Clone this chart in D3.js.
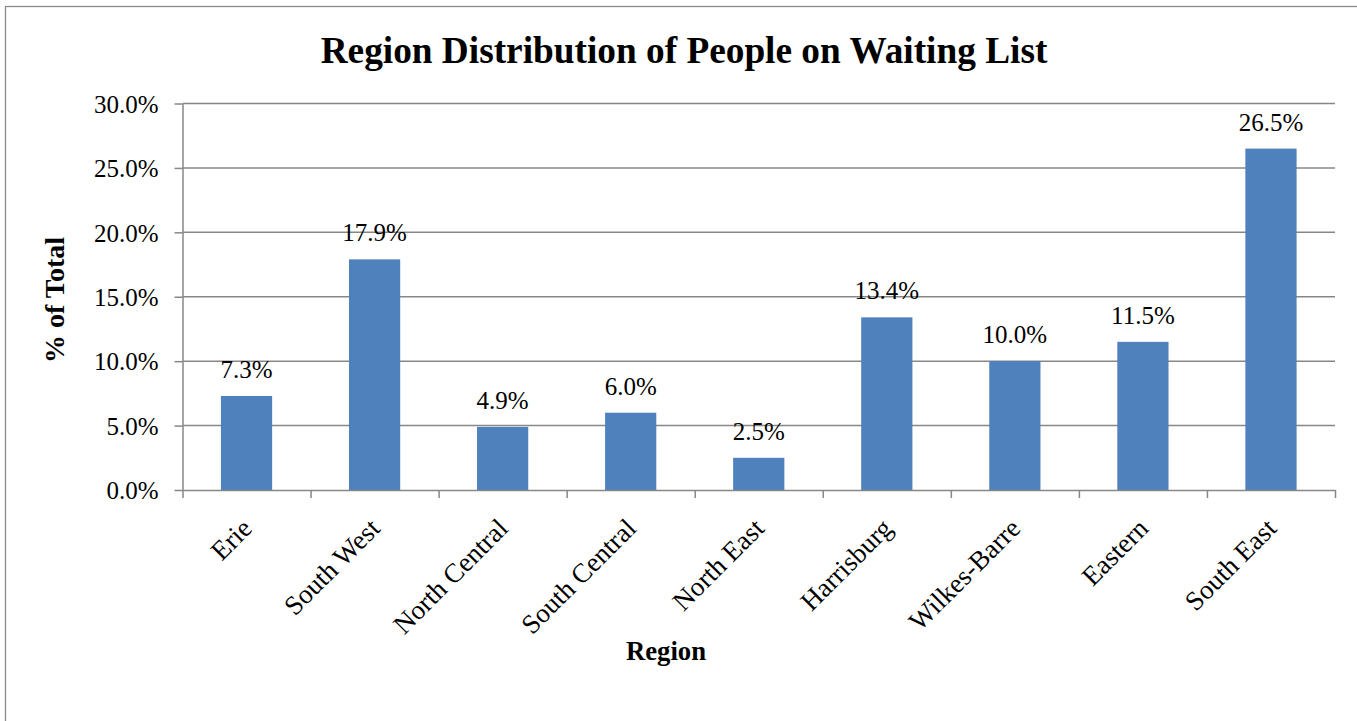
<!DOCTYPE html>
<html>
<head>
<meta charset="utf-8">
<script src="https://cdn.jsdelivr.net/npm/d3@7"></script>
<style>
  html, body { margin: 0; padding: 0; background: #fff; }
  svg { display: block; }
  text { font-family: "Liberation Serif", "Times New Roman", serif; fill: #000; }
</style>
</head>
<body>
<svg id="chart" width="1357" height="721"></svg>
<script>
const categories = ["Erie", "South West", "North Central", "South Central", "North East", "Harrisburg", "Wilkes-Barre", "Eastern", "South East"];
const values = [7.3, 17.9, 4.9, 6.0, 2.5, 13.4, 10.0, 11.5, 26.5];
const yTicks = [0, 5, 10, 15, 20, 25, 30];
const titleText = "Region Distribution of People on Waiting List";
const xTitle = "Region";
const yTitle = "% of Total";

(function () {
const svg = d3.select("#chart");
const FONT = "'Liberation Serif', 'Times New Roman', serif";
const pLeft = 182.5, pRight = 1335, pTop = 103.5, pBottom = 490;
const gray = "#878787";
const barColor = "#4F81BD";

// outer border
svg.append("rect").attr("x", 5.5).attr("y", 6.5).attr("width", 1400).attr("height", 800)
  .attr("fill", "#fff").attr("stroke", "#8a8a8a").attr("stroke-width", 1.3);

const x = d3.scaleBand().domain(categories).range([pLeft, pRight]).paddingInner(0.6).paddingOuter(0.3);
const xi = d3.scaleLinear().domain([0, categories.length]).range([pLeft, pRight]);
const y = d3.scaleLinear().domain([0, 30]).range([pBottom, pTop]);

// y axis with gridlines
const yAxis = d3.axisLeft(y).tickValues(yTicks).tickFormat(d => d.toFixed(1) + "%").tickSize(8).tickSizeOuter(0);
const gy = svg.append("g").attr("transform", `translate(${pLeft},0)`).call(yAxis);
gy.select(".domain").attr("stroke", gray).attr("stroke-width", 1.5);
gy.selectAll(".tick line").attr("stroke", gray).attr("stroke-width", 1.5);
gy.selectAll(".tick text").attr("x", -24).attr("dy", "0.35em")
  .style("font-size", "25px").style("font-family", FONT).attr("fill", "#000");

svg.append("g").selectAll("line").data(yTicks.filter(d => d > 0)).join("line")
  .attr("x1", pLeft).attr("x2", pRight).attr("y1", d => y(d)).attr("y2", d => y(d))
  .attr("stroke", gray).attr("stroke-width", 1.5);

// bars
svg.append("g").selectAll("rect").data(values).join("rect")
  .attr("x", (d, i) => x(categories[i]))
  .attr("width", x.bandwidth())
  .attr("y", d => y(d))
  .attr("height", d => y(0) - y(d))
  .attr("fill", barColor);

// x axis
const xAxis = d3.axisBottom(xi).tickValues(d3.range(categories.length + 1)).tickFormat("").tickSize(8).tickSizeOuter(0);
const gx = svg.append("g").attr("transform", `translate(0,${pBottom})`).call(xAxis);
gx.select(".domain").attr("stroke", gray).attr("stroke-width", 1.5);
gx.selectAll(".tick line").attr("stroke", gray).attr("stroke-width", 1.5);

// category labels
svg.append("g").selectAll("text").data(categories).join("text")
  .attr("transform", d => `translate(${x(d) + x.bandwidth() / 2 + 7},${pBottom + 40}) rotate(-45)`)
  .attr("text-anchor", "end")
  .style("font-family", FONT)
  .style("font-size", "27px")
  .text(d => d);

// data labels
svg.append("g").selectAll("text").data(values).join("text")
  .attr("x", (d, i) => x(categories[i]) + x.bandwidth() / 2)
  .attr("y", d => y(d) - 18)
  .attr("text-anchor", "middle")
  .style("font-family", FONT)
  .style("font-size", "25px")
  .text(d => d.toFixed(1) + "%");

// title
svg.append("text").attr("x", 684).attr("y", 63).attr("text-anchor", "middle")
  .style("font-family", FONT)
  .style("font-size", "37.3px").style("font-weight", "bold").text(titleText);

// axis titles
svg.append("text").attr("x", 666).attr("y", 660).attr("text-anchor", "middle")
  .style("font-family", FONT)
  .style("font-size", "26.7px").style("font-weight", "bold").text(xTitle);
svg.append("text").attr("transform", `translate(64,300) rotate(-90)`).attr("text-anchor", "middle")
  .style("font-family", FONT)
  .style("font-size", "28px").style("font-weight", "bold").text(yTitle);
})();
</script>
</body>
</html>
